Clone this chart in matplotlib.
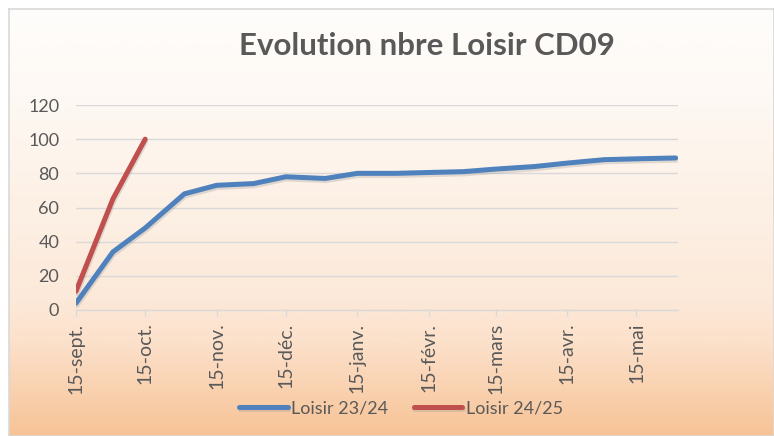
import numpy as np
import matplotlib
matplotlib.use('Agg')
import matplotlib.pyplot as plt
import matplotlib.dates as mdates
import matplotlib.patheffects as pe

plt.rcParams['font.family'] = ['Lato', 'DejaVu Sans']

# data
dates = ['2023-09-15', '2023-10-01', '2023-10-15', '2023-11-01', '2023-11-15',
         '2023-12-01', '2023-12-15', '2024-01-01', '2024-01-15', '2024-02-01',
         '2024-02-15', '2024-03-01', '2024-03-15', '2024-04-01', '2024-04-15',
         '2024-05-01', '2024-05-15', '2024-06-01']
loisir_2324 = [4, 34, 48, 68, 73, 74, 78, 77, 80, 80, 80.5, 81, 82.5, 84, 86, 88, 88.5, 89]
loisir_2425 = [11, 65, 100]

tick_dates = ['2023-09-15', '2023-10-15', '2023-11-15', '2023-12-15', '2024-01-15',
              '2024-02-15', '2024-03-15', '2024-04-15', '2024-05-15']
tick_labels = ['15-sept.', '15-oct.', '15-nov.', '15-déc.', '15-janv.',
               '15-févr.', '15-mars', '15-avr.', '15-mai']

x = mdates.datestr2num(dates)
xt = mdates.datestr2num(tick_dates)

grey = '#595959'
light = '#d9d9d9'
W, H = 774, 436

fig = plt.figure(figsize=(W / 100, H / 100), dpi=100)
fig.patch.set_facecolor('white')

# background gradient of the chart area
bg = fig.add_axes([9 / W, 0, (W - 9) / W, (H - 9) / H], zorder=0)
t = np.linspace(0, 1, 300)
stops = [0, 0.2, 0.68, 0.78, 1]
cols = np.array([[254, 253, 251], [254, 249, 244], [252, 233, 217],
                 [252, 225, 203], [247, 195, 150]]) / 255
grad = np.stack([np.interp(t, stops, cols[:, i]) for i in range(3)], axis=1)
bg.imshow(grad[:, None, :], aspect='auto', extent=[0, 1, 0, 1])
bg.set_xlim(0, 1)
bg.set_ylim(0, 1)
bg.set_xticks([])
bg.set_yticks([])
for s in bg.spines.values():
    s.set_color(light)
    s.set_linewidth(1.2)

ax = fig.add_axes([76 / W, 1 - 310 / H, (678 - 76) / W, (310 - 105) / H], zorder=1)
ax.patch.set_alpha(0)

shadow = [pe.SimpleLineShadow(offset=(0.6, -1.6), shadow_color='#888888', alpha=0.25),
          pe.Normal()]
ax.plot(x, loisir_2324, color='#4f81bd', lw=3.6, solid_capstyle='round',
        solid_joinstyle='round', label='Loisir 23/24', path_effects=shadow)
ax.plot(x[:len(loisir_2425)], loisir_2425, color='#c0504d', lw=3.6, solid_capstyle='round',
        solid_joinstyle='round', label='Loisir 24/25', path_effects=shadow)

ax.set_xlim(x[0], mdates.datestr2num('2024-06-02'))
ax.set_ylim(0, 120)
ax.set_yticks(range(0, 121, 20))
ax.set_xticks(xt)
ax.set_xticklabels(tick_labels, rotation=90)
ax.grid(axis='y', color=light, lw=1)
ax.set_axisbelow(True)
for s in ['top', 'right', 'left']:
    ax.spines[s].set_visible(False)
ax.spines['bottom'].set_color(light)
ax.spines['bottom'].set_linewidth(1)
ax.tick_params(axis='y', length=0, pad=12, labelsize=13, labelcolor=grey)
ax.tick_params(axis='x', length=4, color=light, width=1, pad=5, labelsize=14,
               labelcolor=grey)

fig.text(427 / W, 1 - 46 / H, 'Evolution nbre Loisir CD09', ha='center', va='center',
         fontsize=22.5, fontweight='bold', color=grey)

fig.legend(loc='center', bbox_to_anchor=(401 / W, 1 - 408 / H), ncol=2, frameon=False,
           fontsize=13, labelcolor=grey, handlelength=2.7, handletextpad=0.2,
           columnspacing=1.4)

fig.savefig('out.png', dpi=100)
